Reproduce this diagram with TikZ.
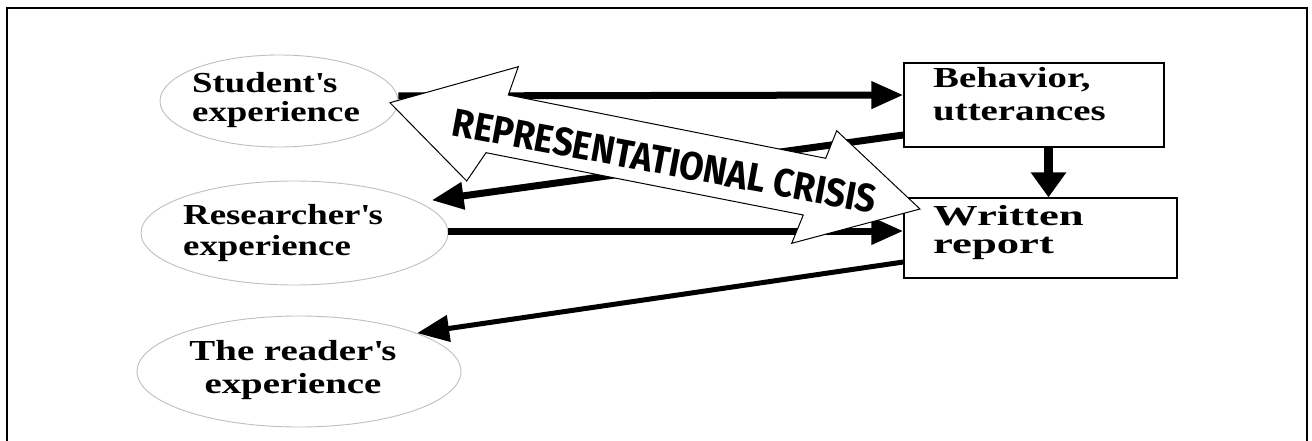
\documentclass[tikz,border=0pt]{standalone}
\usepackage{fontspec}
\usepackage{graphicx}
\setmainfont{Liberation Serif}
\newfontfamily\fStu{Liberation Serif}[FakeStretch=1.27]
\newfontfamily\fRea{Liberation Serif}[FakeStretch=1.34]
\newfontfamily\fBeh{Liberation Serif}[FakeStretch=1.34]
\newfontfamily\fWri{Liberation Serif}[FakeStretch=1.54]
\newfontfamily\fCrisis{Fira Sans}
\usetikzlibrary{arrows.meta,shapes.geometric}
\tikzset{
  oval/.style={ellipse, draw=black!25, line width=0.9pt, fill=white, inner sep=0pt},
  box/.style={rectangle, draw=black, line width=1.3pt, fill=white, inner sep=0pt},
  lbl/.style={inner sep=0pt, align=left},
  conn/.style={line width=7pt, -{Triangle[length=32pt,width=26pt]}},
  vconn/.style={line width=9pt, -{Triangle[length=25pt,width=34pt]}},
  bigarrow/.style={draw=black, line width=1pt, fill=white, line join=miter},
  frameline/.style={line width=2pt}
}
\begin{document}
\begin{tikzpicture}[x=1pt,y=-1pt]
\useasboundingbox (0,0) rectangle (1312,441);
\draw[frameline] (6.5,445) -- (6.5,7.8) -- (1307,7.8) -- (1307,445);

% ellipses and boxes
\node[oval, minimum width=238pt, minimum height=92pt] (stu) at (279,101) {};
\node[oval, minimum width=307pt, minimum height=104pt] (res) at (294.5,233) {};
\node[oval, minimum width=324pt, minimum height=111pt] (rea) at (299,371.5) {};
\node[box, minimum width=260pt, minimum height=84pt] (beh) at (1034,105) {};
\node[box, minimum width=273pt, minimum height=80pt] (wri) at (1040.5,238) {};

% texts
\node[lbl, anchor=west, font=\fStu\bfseries\fontsize{29}{29}\selectfont] (stuT) at (192,99.6) {Student\textquotesingle s\\experience};
\node[lbl, anchor=west, font=\fStu\bfseries\fontsize{29}{31}\selectfont] (resT) at (183,232.9) {Researcher\textquotesingle s\\experience};
\node[lbl, align=center, font=\fRea\bfseries\fontsize{29}{33}\selectfont] (reaT) at (293,369.9) {The reader\textquotesingle s\\experience};
\node[lbl, anchor=west, font=\fBeh\bfseries\fontsize{29}{33.4}\selectfont] (behT) at (933,94.2) {Behavior,\\utterances};
\node[lbl, anchor=west, font=\fWri\bfseries\fontsize{29}{28}\selectfont] (wriT) at (933,232.5) {Written\\report};

% connectors
\draw[conn] ([yshift=5pt]stu.east) -- ([yshift=10pt]beh.west);
\draw[conn] ([yshift=2pt]res.east) -- ([yshift=7pt]wri.west);
\draw[conn, shorten >=13pt] ([yshift=-30pt]beh.west) -- (res.14);
\draw[conn, line width=5pt] ([yshift=-24pt]wri.west) -- (rea.18);
\draw[vconn] ([xshift=14.5pt]beh.south) -- ([xshift=14.5pt]beh.south |- wri.north);

% representational crisis double arrow
\draw[bigarrow] (390,102.7) -- (518.3,66.7) -- (508.3,95) -- (825.7,158.3) -- (836.7,130.7)
  -- (920,209) -- (791.7,243.3) -- (803.3,215) -- (486,152.7) -- (466.7,181) -- cycle;
\node[rotate=-10.5, inner sep=0pt] (crisis) at (664.5,161)
  {\resizebox{430pt}{28pt}{\fCrisis\bfseries REPRESENTATIONAL CRISIS}};
\end{tikzpicture}
\end{document}
